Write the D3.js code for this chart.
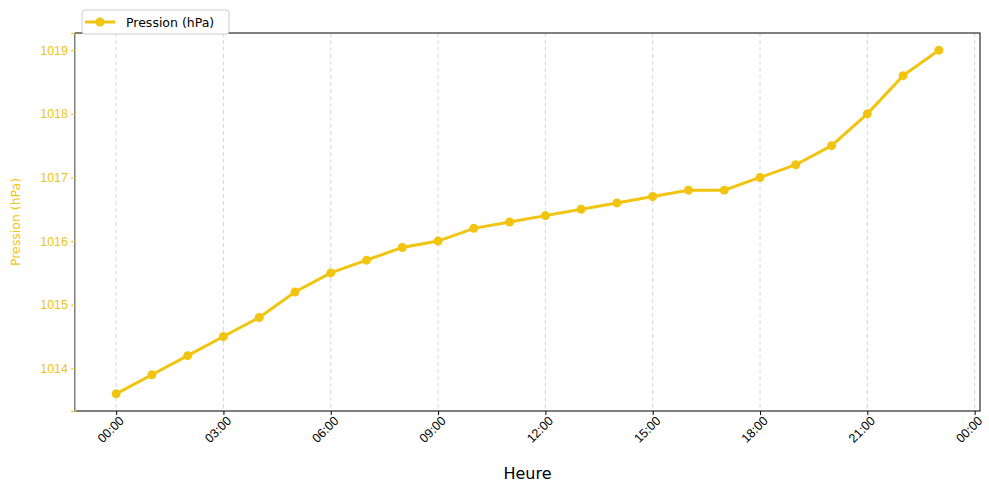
<!DOCTYPE html>
<html><head><meta charset="utf-8">
<script src="https://cdn.jsdelivr.net/npm/d3@7"></script>
<style>body{margin:0;background:#fff;font-family:"DejaVu Sans",sans-serif}</style>
</head><body><svg id="chart" width="989" height="493"></svg>
<script>
const hours = d3.range(0, 24);
const pressure = [1013.6, 1013.9, 1014.2, 1014.5, 1014.8, 1015.2, 1015.5, 1015.7, 1015.9, 1016.0,
  1016.2, 1016.3, 1016.4, 1016.5, 1016.6, 1016.7, 1016.8, 1016.8, 1017.0, 1017.2,
  1017.5, 1018.0, 1018.6, 1019.0];
const xTicks = [0, 3, 6, 9, 12, 15, 18, 21, 24];
const yTicks = [1014, 1015, 1016, 1017, 1018, 1019];
const color = "#f1c40f";

const m = {left: 75, right: 9, top: 33, bottom: 82};
const W = 989, H = 493;
const svg = d3.select("#chart");
const x = d3.scaleLinear().domain([-1.15, 24.15]).range([m.left, W - m.right]);
const y = d3.scaleLinear().domain([1013.33, 1019.27]).range([H - m.bottom, m.top]);

// vertical grid
svg.append("g").selectAll("line").data(xTicks).enter().append("line")
  .attr("x1", d => x(d)).attr("x2", d => x(d))
  .attr("y1", m.top).attr("y2", H - m.bottom)
  .attr("stroke", "#ccc").attr("stroke-dasharray", "4,3").attr("stroke-width", 0.8);

// frame
svg.append("rect").attr("x", m.left).attr("y", m.top)
  .attr("width", W - m.left - m.right).attr("height", H - m.top - m.bottom)
  .attr("fill", "none").attr("stroke", "#000").attr("stroke-width", 1);

const fmt = h => String(h % 24).padStart(2, "0") + ":00";
const xa = svg.append("g").attr("transform", `translate(0,${H - m.bottom})`)
  .call(d3.axisBottom(x).tickValues(xTicks).tickFormat(fmt).tickSizeOuter(0).tickSize(4));
xa.select(".domain").remove();
xa.selectAll("text").attr("font-size", 12.5).attr("fill", "#000")
  .attr("x", 4).attr("y", 8).attr("dy", "0.6em")
  .attr("text-anchor", "end").attr("transform", "rotate(-45, 0, 8)");

const ya = svg.append("g").attr("transform", `translate(${m.left},0)`)
  .call(d3.axisLeft(y).tickValues(yTicks).tickFormat(d3.format("d")).tickSize(4));
ya.select(".domain").attr("stroke", color);
ya.selectAll("line").attr("stroke", color);
ya.selectAll("text").attr("font-size", 12.5).attr("fill", color);

svg.append("text").attr("x", (m.left + W - m.right) / 2).attr("y", 479)
  .attr("text-anchor", "middle").attr("font-size", 16).text("Heure");
svg.append("text").attr("transform", `translate(20,${(m.top + H - m.bottom) / 2}) rotate(-90)`)
  .attr("text-anchor", "middle").attr("font-size", 12.5).attr("fill", color).text("Pression (hPa)");

const line = d3.line().x((d, i) => x(hours[i])).y(d => y(d));
svg.append("path").datum(pressure).attr("d", line)
  .attr("fill", "none").attr("stroke", color).attr("stroke-width", 3);
svg.append("g").selectAll("circle").data(pressure).enter().append("circle")
  .attr("cx", (d, i) => x(hours[i])).attr("cy", d => y(d)).attr("r", 4.5).attr("fill", color);

// legend
const lg = svg.append("g");
lg.append("rect").attr("x", 82).attr("y", 10).attr("width", 147).attr("height", 24)
  .attr("rx", 3).attr("fill", "#fff").attr("stroke", "#ccc");
lg.append("line").attr("x1", 85).attr("x2", 115).attr("y1", 22).attr("y2", 22)
  .attr("stroke", color).attr("stroke-width", 3);
lg.append("circle").attr("cx", 100).attr("cy", 22).attr("r", 4.5).attr("fill", color);
lg.append("text").attr("x", 126).attr("y", 26.5).attr("font-size", 12.5).text("Pression (hPa)");
</script></body></html>
